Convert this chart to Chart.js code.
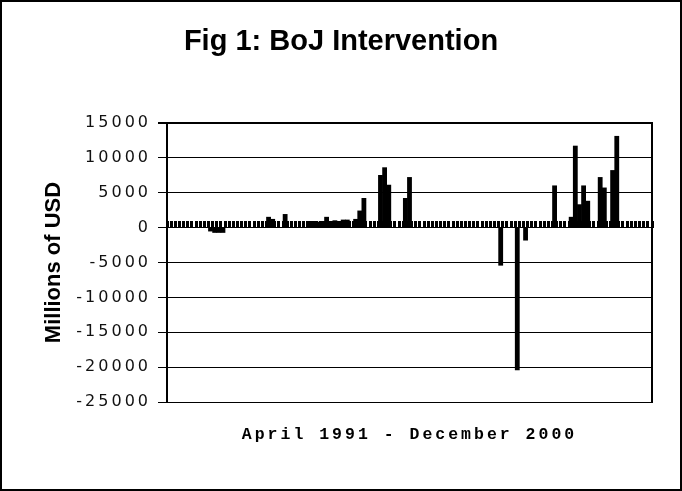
<!DOCTYPE html>
<html>
<head>
<meta charset="utf-8">
<script src="https://cdn.jsdelivr.net/npm/chart.js@4"></script>
<style>
    body { margin: 0; background: #fff; }
    #frame { width: 682px; height: 491px; box-sizing: border-box; border: 2px solid #000; background: #fff; }
    #frame canvas { display: block; }
</style>
</head>
<body>
<div id="frame"><canvas id="bojChart" width="678" height="487"></canvas></div>
<script>
// Monthly BoJ intervention, April 1991 - December 2000 (millions of USD, + = USD bought)
const monthNames = ['Jan', 'Feb', 'Mar', 'Apr', 'May', 'Jun', 'Jul', 'Aug', 'Sep', 'Oct', 'Nov', 'Dec'];
const startYear = 1991;
const startMonth = 3; // April

const intervention = [
    // 1991 (Apr-Dec)
    0, 0, 0, 0, 0, 0, 0, 0, 0,
    // 1992
    0, -500, -700, -700, -700, 0, 0, 0, 0, 0, 0, 0,
    // 1993
    0, 0, 0, 1500, 1200, 0, 0, 1900, 0, 0, 0, 0,
    // 1994
    0, 900, 900, 800, 900, 1500, 900, 1000, 900, 1100, 1100, 0,
    // 1995
    1200, 2400, 4200, 0, 0, 0, 7500, 8600, 6100, 0, 0, 0,
    // 1996
    4200, 7200, 0, 0, 0, 0, 0, 0, 0, 0, 0, 0,
    // 1997
    0, 0, 0, 0, 0, 0, 0, 0, 0, 0, 0, -5400,
    // 1998
    0, 0, 0, -20400, 0, -1800, 0, 0, 0, 0, 0, 0,
    // 1999
    6000, 0, 0, 0, 1500, 11700, 3300, 6000, 3800, 0, 0, 7200,
    // 2000
    5700, 0, 8200, 13100, 0, 0, 0, 0, 0, 0, 0, 0
];

const yTicks = [-25000, -20000, -15000, -10000, -5000, 0, 5000, 10000, 15000];

// build month labels for the category axis
const labels = [];
for (let i = 0; i < intervention.length; i++) {
    const m = (startMonth + i) % 12;
    const y = startYear + Math.floor((startMonth + i) / 12);
    labels.push(`${monthNames[m]} ${y}`);
}

const yMin = yTicks[0];
const yMax = yTicks[yTicks.length - 1];
const yStep = yTicks[1] - yTicks[0];

// wide letter spacing for the axis texts drawn after the bars
const spacingPlugin = {
    id: 'spacing',
    beforeDraw(chart) { chart.ctx.letterSpacing = '0px'; },
    afterDatasetsDraw(chart) { chart.ctx.letterSpacing = '3px'; },
    afterDraw(chart) { chart.ctx.letterSpacing = '0px'; }
};

const ctx = document.getElementById('bojChart').getContext('2d');

new Chart(ctx, {
    type: 'bar',
    data: {
        labels: labels,
        datasets: [{
            data: intervention,
            backgroundColor: '#000',
            borderWidth: 0,
            barPercentage: 1,
            categoryPercentage: 1
        }]
    },
    options: {
        responsive: false,
        animation: false,
        layout: {
            padding: 0
        },
        plugins: {
            legend: { display: false },
            tooltip: { enabled: false },
            title: {
                display: true,
                text: 'Fig 1: BoJ Intervention',
                color: '#000',
                font: { family: 'Liberation Sans', size: 29, weight: 'bold', lineHeight: 1.2 },
                padding: { top: 23, bottom: 63.2 }
            }
        },
        scales: {
            x: {
                position: { y: 0 },
                ticks: { display: false, autoSkip: false },
                grid: {
                    offset: true,
                    drawOnChartArea: false,
                    drawTicks: true,
                    tickLength: -7,
                    tickWidth: 3,
                    lineWidth: 3,
                    tickColor: '#000',
                    color: '#000'
                },
                border: { display: false }
            },
            xTitle: {
                type: 'category',
                position: 'bottom',
                ticks: { display: false },
                grid: { display: false, z: 1 },
                border: { display: false },
                title: {
                    display: true,
                    text: 'April 1991 - December 2000',
                    color: '#000',
                    font: { family: 'Liberation Mono', size: 16.5, weight: 'bold' },
                    padding: { top: 0, bottom: 44 }
                },
                afterFit: scale => { scale.height = 87; }
            },
            y: {
                min: yMin,
                max: yMax,
                ticks: {
                    stepSize: yStep,
                    callback: value => String(value),
                    color: '#111',
                    font: { family: 'DejaVu Sans', size: 16 },
                    padding: 7,
                    z: 1
                },
                grid: {
                    color: '#000',
                    tickColor: '#000',
                    tickLength: 9,
                    lineWidth: c => (c.tick && c.tick.value === yMax ? 2 : 1)
                },
                border: { color: '#000', width: 2 },
                title: {
                    display: true,
                    text: 'Millions of USD',
                    color: '#000',
                    font: { family: 'Liberation Sans', size: 22, weight: 'bold' },
                    padding: { top: 39, bottom: 0 }
                },
                afterFit: scale => { scale.width = 165; }
            },
            yRight: {
                type: 'linear',
                position: 'right',
                min: yMin,
                max: yMax,
                ticks: { display: false },
                grid: { display: false },
                border: { color: '#000', width: 2 },
                afterFit: scale => { scale.width = 28; }
            }
        }
    },
    plugins: [spacingPlugin]
});
</script>
</body>
</html>
